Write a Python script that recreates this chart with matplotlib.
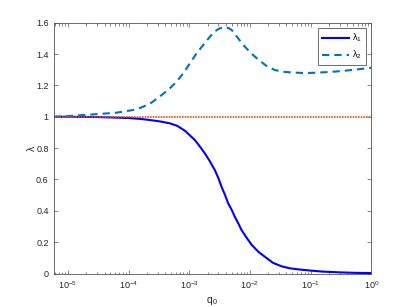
import numpy as np
from matplotlib import pyplot as plt
from matplotlib.ticker import LogLocator, NullFormatter

# exponents of q0 (q0 = 10**exponent) and values
log_q1 = [-5.24, -5.0, -4.5, -4.0, -3.8, -3.65, -3.48, -3.32, -3.20, -3.07,
          -2.91, -2.83, -2.745, -2.66, -2.58, -2.52, -2.47, -2.41, -2.36, -2.30,
          -2.25, -2.19, -2.14, -2.05, -1.97, -1.86, -1.755, -1.62, -1.48, -1.34,
          -1.17, -1.01, -0.8, -0.5, -0.25, 0.0]
lam1 = [1.0, 1.0, 0.998, 0.992, 0.986, 0.979, 0.970, 0.958, 0.942, 0.910,
        0.852, 0.812, 0.767, 0.715, 0.660, 0.608, 0.554, 0.500, 0.448, 0.405,
        0.362, 0.318, 0.278, 0.225, 0.182, 0.138, 0.107, 0.068, 0.046, 0.033,
        0.025, 0.019, 0.012, 0.007, 0.004, 0.003]

log_q2 = [-5.24, -5.0, -4.75, -4.48, -4.2, -3.93, -3.8, -3.65, -3.485, -3.35,
          -3.21, -3.10, -2.99, -2.88, -2.77, -2.66, -2.58, -2.50, -2.41, -2.35,
          -2.30, -2.25, -2.195, -2.13, -2.06, -1.95, -1.84, -1.73, -1.59, -1.45,
          -1.3, -1.1, -0.9, -0.6, -0.3, 0.0]
lam2 = [1.0, 1.004, 1.011, 1.018, 1.026, 1.043, 1.058, 1.083, 1.130, 1.171,
        1.224, 1.277, 1.341, 1.405, 1.458, 1.511, 1.545, 1.564, 1.571, 1.565,
        1.553, 1.530, 1.500, 1.468, 1.437, 1.394, 1.358, 1.325, 1.298, 1.287,
        1.282, 1.279, 1.281, 1.288, 1.299, 1.313]

ref_level = 1.0
y_ticks = [0, 0.2, 0.4, 0.6, 0.8, 1, 1.2, 1.4, 1.6]
y_labels = ['0', '0.2', '0.4', '0.6', '0.8', '1', '1.2', '1.4', '1.6']

q1 = 10.0 ** np.array(log_q1)
q2 = 10.0 ** np.array(log_q2)

plt.rcParams['font.family'] = ['Liberation Sans', 'DejaVu Sans']
plt.rcParams['mathtext.fontset'] = 'custom'
plt.rcParams['mathtext.rm'] = 'Liberation Sans'
plt.rcParams['mathtext.it'] = 'Liberation Sans'

fig = plt.figure(figsize=(4.1, 3.07), dpi=100)
ax = fig.add_axes([0.1305, 0.1091, 0.775, 0.8169])

ax.plot(q1, lam1, color=(0, 0, 1), lw=1.5, label=r'$\lambda_1$')
ax.plot(q2, lam2, color='#0072BD', lw=1.5, ls=(0, (3.5, 2.4)), label=r'$\lambda_2$')
ax.axhline(ref_level, color='#D95319', lw=1.2, ls=(0, (1, 0.6)))

ax.set_xscale('log')
ax.set_xlim(10 ** -5.24, 1.0)
ax.set_ylim(0, 1.6)
ax.set_yticks(y_ticks)
ax.set_yticklabels(y_labels)
ax.xaxis.set_major_locator(LogLocator(base=10, numticks=10))
ax.xaxis.set_minor_locator(LogLocator(base=10, subs=np.arange(2, 10), numticks=10))
ax.xaxis.set_minor_formatter(NullFormatter())

gray = '#262626'
for s in ax.spines.values():
    s.set_color('#555555')
    s.set_linewidth(0.6)
ax.tick_params(which='both', direction='in', top=True, right=True,
               colors='#555555', labelcolor=gray, labelsize=6.5, width=0.5)
ax.tick_params(which='major', length=3)
ax.tick_params(which='minor', length=1.8)
ax.tick_params(axis='x', pad=4)

ax.set_xlabel(r'q$_{\,0}$', fontsize=7.5, color=gray, labelpad=3)
ax.set_ylabel(r'$\lambda$', fontsize=7.5, color=gray, labelpad=-1)

leg = ax.legend(loc='upper right', fontsize=6.5, handlelength=3.0,
                borderaxespad=0.6, fancybox=False, framealpha=1,
                labelspacing=0.5, handletextpad=0.4, borderpad=0.4)
leg.get_frame().set_edgecolor('#555555')
leg.get_frame().set_linewidth(0.6)

fig.savefig('out.png', dpi=100)
